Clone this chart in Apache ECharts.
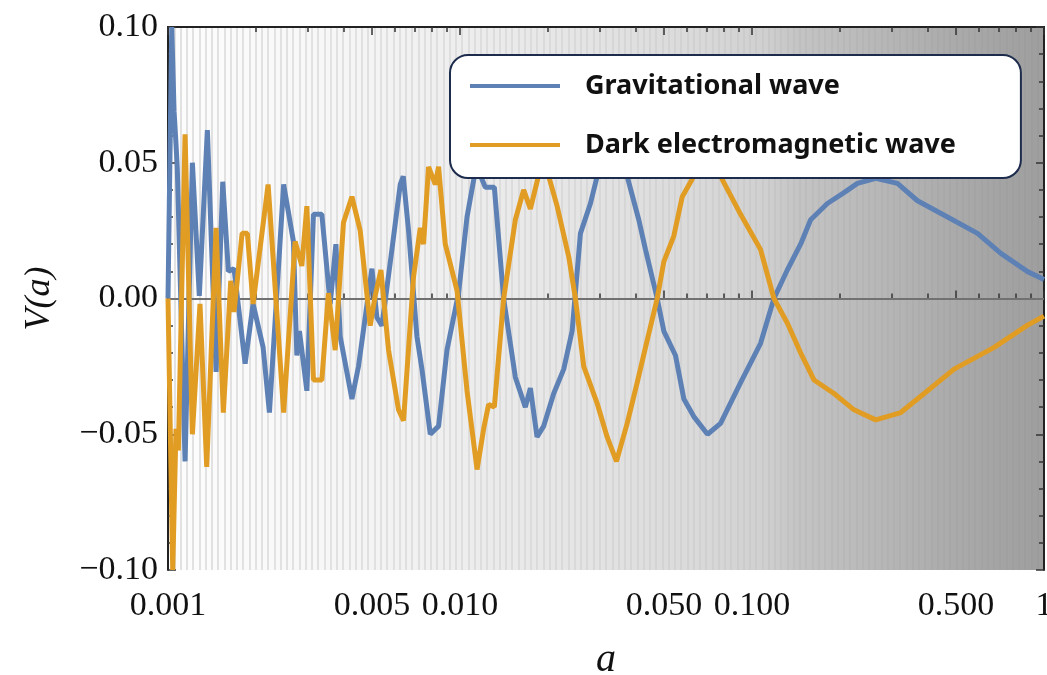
<!DOCTYPE html>
<html>
<head>
<meta charset="utf-8">
<script src="https://cdn.jsdelivr.net/npm/echarts@6.0.0/dist/echarts.min.js"></script>
<style>
  html, body { margin: 0; padding: 0; background: #fff; }
  #main { width: 1047px; height: 675px; }
</style>
</head>
<body>
<div id="main"></div>
<script>
// values
const gwA = [0.001000, 0.001030, 0.001049, 0.001065, 0.001076, 0.001144, 0.001212, 0.001280, 0.001364, 0.001461,
  0.001540, 0.001610, 0.001683, 0.001837, 0.001956, 0.002117, 0.002225, 0.002489, 0.002689, 0.002762,
  0.002819, 0.002989, 0.003149, 0.003364, 0.003593, 0.003758, 0.003888, 0.004264, 0.004491, 0.004993,
  0.005193, 0.005403, 0.005846, 0.006242, 0.006392, 0.006665, 0.007121, 0.007407, 0.007911, 0.008445,
  0.009024, 0.009890, 0.01057, 0.01137, 0.01221, 0.01311, 0.01411, 0.01547, 0.01674, 0.01742,
  0.01836, 0.01935, 0.02094, 0.02266, 0.02421, 0.02585, 0.02797, 0.02949, 0.03275, 0.03737,
  0.04095, 0.04318, 0.04735, 0.04989, 0.05471, 0.05843, 0.06321, 0.07043, 0.07805, 0.09140,
  0.1070, 0.1189, 0.1321, 0.1467, 0.1588, 0.1812, 0.2066, 0.2296, 0.2653, 0.3149,
  0.3687, 0.4672, 0.5920, 0.7116, 0.8787, 1.0];
const gwV = [0, 0.100, 0.069, 0.057, 0.048, -0.060, 0.050, 0.001, 0.062, -0.027,
  0.043, 0.010, 0.011, -0.024, -0.002, -0.018, -0.042, 0.042, 0.021, -0.021,
  -0.012, -0.034, 0.031, 0.031, -0.002, 0.020, -0.014, -0.037, -0.025, 0.011,
  -0.007, -0.010, 0.018, 0.042, 0.045, 0.025, -0.014, -0.026, -0.050, -0.047,
  -0.019, 0.002, 0.030, 0.049, 0.041, 0.041, 0.000, -0.029, -0.040, -0.033,
  -0.051, -0.047, -0.035, -0.026, -0.012, 0.024, 0.035, 0.045, 0.052, 0.045,
  0.029, 0.018, 0.000, -0.012, -0.021, -0.037, -0.0435, -0.050, -0.046, -0.031,
  -0.0165, 0.000, 0.0105, 0.020, 0.029, 0.035, 0.039, 0.0424, 0.0443, 0.0424,
  0.036, 0.030, 0.024, 0.0166, 0.0099, 0.007];

const emA = [0.001000, 0.001038, 0.001065, 0.001085, 0.001144, 0.001212, 0.001287, 0.001357, 0.001461, 0.001547,
  0.001640, 0.001683, 0.001794, 0.001870, 0.001956, 0.002202, 0.002489, 0.002725, 0.002873, 0.002989,
  0.003149, 0.003364, 0.003544, 0.003737, 0.003990, 0.004264, 0.004552, 0.004926, 0.005124, 0.005360,
  0.005692, 0.006159, 0.006407, 0.006933, 0.007310, 0.007502, 0.007804, 0.008228, 0.008445, 0.008904,
  0.009766, 0.01057, 0.01144, 0.01205, 0.01253, 0.01311, 0.01411, 0.01547, 0.01652, 0.01742,
  0.01885, 0.02013, 0.02151, 0.02357, 0.02485, 0.02653, 0.02949, 0.03191, 0.03434, 0.03737,
  0.04044, 0.04318, 0.04735, 0.04989, 0.05398, 0.05769, 0.06321, 0.07327, 0.07805, 0.09140,
  0.1070, 0.1189, 0.1321, 0.1467, 0.1630, 0.1909, 0.2235, 0.2653, 0.3232, 0.3784,
  0.4922, 0.6749, 0.8787, 1.0];
const emV = [0, -0.100, -0.048, -0.056, 0.0605, -0.050, -0.002, -0.062, 0.026, -0.042,
  0.0065, -0.005, 0.024, 0.024, -0.002, 0.042, -0.042, 0.021, 0.012, 0.034,
  -0.030, -0.030, 0.002, -0.019, 0.028, 0.0375, 0.025, -0.010, 0.001, 0.0105,
  -0.019, -0.041, -0.045, 0.008, 0.026, 0.020, 0.0485, 0.042, 0.0485, 0.020,
  0.003, -0.034, -0.063, -0.048, -0.039, -0.040, 0.000, 0.029, 0.040, 0.033,
  0.048, 0.045, 0.034, 0.0154, 0.000, -0.025, -0.0386, -0.051, -0.060, -0.046,
  -0.031, -0.018, 0.000, 0.0136, 0.023, 0.0375, 0.045, 0.051, 0.045, 0.031,
  0.018, 0.000, -0.009, -0.020, -0.030, -0.035, -0.041, -0.0447, -0.042, -0.036,
  -0.026, -0.018, -0.0098, -0.0065];

const seriesNames = ['Gravitational wave', 'Dark electromagnetic wave'];
const xTickValues = [0.001, 0.005, 0.01, 0.05, 0.1, 0.5, 1];
const xTickLabels = ['0.001', '0.005', '0.010', '0.050', '0.100', '0.500', '1'];
const xMinorTicks = [0.002, 0.003, 0.004, 0.006, 0.007, 0.008, 0.009,
  0.02, 0.03, 0.04, 0.06, 0.07, 0.08, 0.09,
  0.2, 0.3, 0.4, 0.6, 0.7, 0.8, 0.9];

const BLUE = '#5e81b5';
const ORANGE = '#e19c24';
const FRAME = '#222';

function zip(xs, ys) {
    let res = [];
    for (let i = 0; i < xs.length; i++) {
        res.push([xs[i], ys[i]]);
    }
    return res;
}

function xLabel(v) {
    for (let i = 0; i < xTickValues.length; i++) {
        if (Math.abs(v - xTickValues[i]) / xTickValues[i] < 1e-6) return xTickLabels[i];
    }
    return '';
}

function yLabel(v) {
    if (Math.abs(v) < 1e-9) return '0.00';
    return (v < 0 ? '\u2212' : '') + Math.abs(v).toFixed(2);
}

// one log x axis, used for ticks on top / bottom
function logAxis(position, ticks, len, withLabels) {
    return {
        type: 'log', logBase: 10, min: 0.001, max: 1, position: position,
        axisLine: {show: true, lineStyle: {color: FRAME, width: 2}},
        axisTick: {show: true, inside: true, length: len, customValues: ticks,
            lineStyle: {color: '#333', width: 1.5}},
        axisLabel: withLabels ? {
            show: true, customValues: xTickValues, formatter: xLabel, margin: 19,
            fontFamily: 'Liberation Serif', fontSize: 34, color: '#111'
        } : {show: false},
        splitLine: {show: false}, minorTick: {show: false}
    };
}

function valAxis(position, withLabels) {
    return {
        type: 'value', min: -0.1, max: 0.1, interval: 0.05, position: position,
        axisLine: {show: true, lineStyle: {color: FRAME, width: 2}},
        axisTick: {show: true, inside: true, length: 8, lineStyle: {color: '#333', width: 1.5}},
        minorTick: {show: true, splitNumber: 5, length: 5, lineStyle: {color: '#333', width: 1.5}},
        axisLabel: withLabels ? {
            show: true, formatter: yLabel, margin: 10,
            fontFamily: 'Liberation Serif', fontSize: 34, color: '#111'
        } : {show: false},
        splitLine: {show: false}
    };
}

let chart = echarts.init(document.getElementById('main'), null, {renderer: 'canvas'});

let bottomAxis = logAxis('bottom', xTickValues, 8, true);
bottomAxis.name = 'a';
bottomAxis.nameLocation = 'middle';
bottomAxis.nameGap = 70;
bottomAxis.nameTextStyle = {fontFamily: 'Liberation Serif', fontStyle: 'italic', fontSize: 40, color: '#111'};

let leftAxis = valAxis('left', true);
leftAxis.name = 'V(a)';
leftAxis.nameLocation = 'middle';
leftAxis.nameGap = 110;
leftAxis.nameRotate = 90;
leftAxis.nameTextStyle = {fontFamily: 'Liberation Serif', fontStyle: 'italic', fontSize: 36, color: '#111'};

// faint vertical stripes of the shaded background
let stripeAxis = {
    type: 'value', min: 0, max: 140, interval: 1, position: 'bottom',
    axisLine: {show: false}, axisTick: {show: false}, axisLabel: {show: false},
    splitLine: {
        show: true,
        lineStyle: {
            width: 2,
            color: {
                type: 'linear', x: 168, y: 0, x2: 1044, y2: 0, global: true,
                colorStops: [
                    {offset: 0, color: 'rgba(0,0,0,0.11)'},
                    {offset: 0.4, color: 'rgba(0,0,0,0.06)'},
                    {offset: 0.7, color: 'rgba(0,0,0,0.03)'},
                    {offset: 1, color: 'rgba(0,0,0,0.02)'}
                ]
            }
        }
    }
};

let option = {
    animation: false,
    grid: {
        left: 168, right: 3, top: 27, bottom: 105, show: true, borderWidth: 0,
        outerBoundsMode: 'none', containLabel: false,
        backgroundColor: {
            type: 'linear', x: 0, y: 0, x2: 1, y2: 0,
            colorStops: [
                {offset: 0, color: '#fdfdfd'},
                {offset: 0.18, color: '#f7f7f7'},
                {offset: 0.33, color: '#eeeeee'},
                {offset: 0.45, color: '#e6e6e6'},
                {offset: 0.6, color: '#dadada'},
                {offset: 0.68, color: '#d0d0d0'},
                {offset: 0.72, color: '#c4c4c4'},
                {offset: 0.8, color: '#b9b9b9'},
                {offset: 0.9, color: '#aaaaaa'},
                {offset: 1, color: '#9e9e9e'}
            ]
        }
    },
    legend: {
        data: seriesNames, orient: 'vertical', left: 450, top: 55,
        backgroundColor: '#fff', borderColor: '#1d2b4c', borderWidth: 2, borderRadius: 18,
        padding: [16, 65, 18, 20], itemWidth: 90, itemHeight: 4, itemGap: 29, icon: 'rect',
        textStyle: {fontFamily: 'Noto Sans', fontWeight: 'bold', fontSize: 27, color: '#111',
            lineHeight: 30, padding: [0, 0, 0, 20]}
    },
    xAxis: [
        bottomAxis,
        logAxis('bottom', xMinorTicks, 5, false),
        logAxis('top', xTickValues, 8, false),
        logAxis('top', xMinorTicks, 5, false),
        stripeAxis
    ],
    yAxis: [leftAxis, valAxis('right', false)],
    series: [
        {
            name: seriesNames[0], type: 'line', data: zip(gwA, gwV), showSymbol: false, symbol: 'none',
            lineStyle: {color: BLUE, width: 5}, itemStyle: {color: BLUE}, z: 3, clip: true,
            markLine: {
                silent: true, symbol: ['none', 'none'], z: 1, label: {show: false},
                lineStyle: {color: '#8c8c8c', width: 1.5, type: 'solid'},
                data: [{yAxis: 0}]
            }
        },
        {
            name: seriesNames[1], type: 'line', data: zip(emA, emV), showSymbol: false, symbol: 'none',
            lineStyle: {color: ORANGE, width: 5}, itemStyle: {color: ORANGE}, z: 3, clip: true
        }
    ]
};

chart.setOption(option);
</script>
</body>
</html>
